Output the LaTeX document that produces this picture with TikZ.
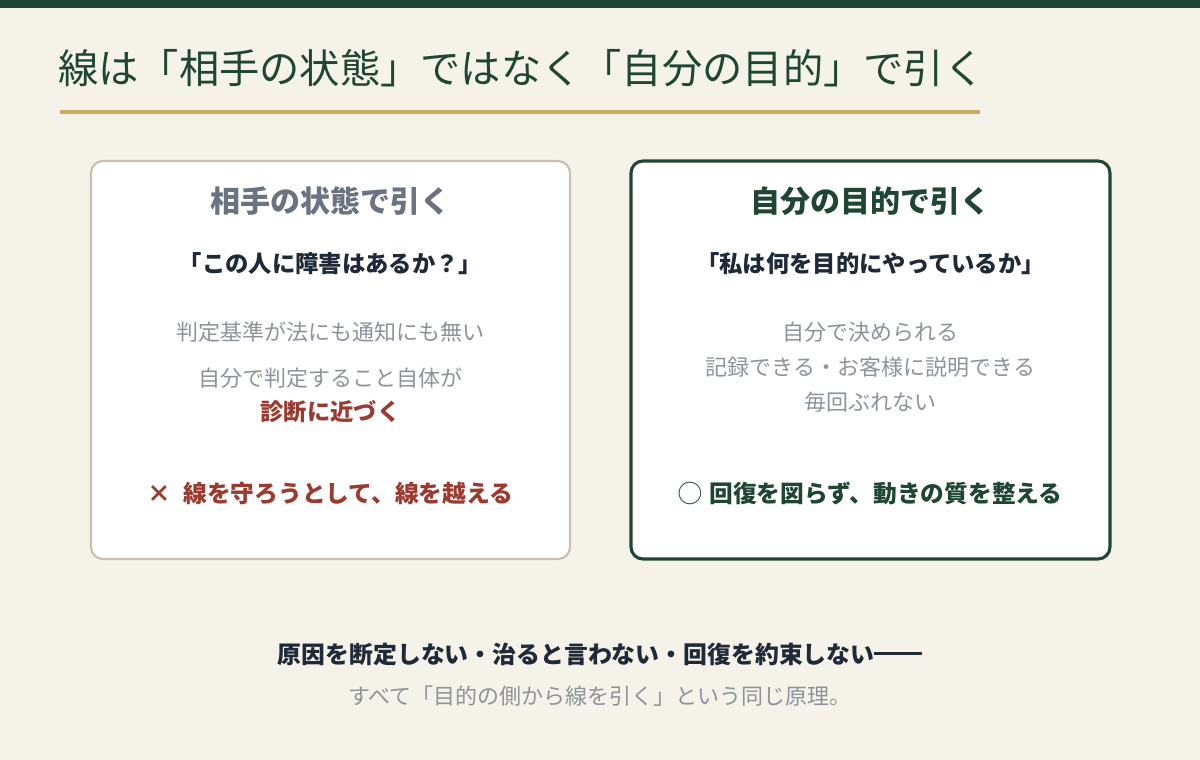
\documentclass[tikz,border=0pt]{standalone}
\usepackage{fontspec}
\setmainfont{Noto Sans CJK JP}
\newfontfamily\jp{Noto Sans CJK JP}
\definecolor{bg}{HTML}{F5F2EA}
\definecolor{dgreen}{HTML}{1E4632}
\definecolor{gold}{HTML}{CDA861}
\definecolor{beige}{HTML}{C9C0B3}
\definecolor{slate}{HTML}{6B7280}
\definecolor{ink}{HTML}{1F2937}
\definecolor{lgray}{HTML}{8E939B}
\definecolor{rust}{HTML}{9B3A2E}
\tikzset{
  card/.style={rounded corners=12*0.75pt, fill=white},
  cardtitle/.style={font=\jp\bfseries\fontsize{22.5}{27}\selectfont, anchor=center, inner sep=0pt},
  quote/.style={font=\jp\bfseries\fontsize{17.5}{21}\selectfont, text=ink, anchor=center, inner sep=0pt},
  note/.style={font=\jp\fontsize{16.5}{20}\selectfont, text=lgray, anchor=center, inner sep=0pt},
  verdict/.style={font=\jp\bfseries\fontsize{17.8}{21}\selectfont, anchor=center, inner sep=0pt},
}
\begin{document}
\begin{tikzpicture}[x=0.75pt,y=-0.75pt]
\fill[bg] (0,0) rectangle (1200,760);
\useasboundingbox (0,0) rectangle (1200,760);
\fill[dgreen] (0,0) rectangle (1200,8);
\node[anchor=west, inner sep=0pt, text=dgreen, font=\jp\fontsize{30.2}{34}\selectfont] (title) at (58,68) {線は「相手の状態」ではなく「自分の目的」で引く};
\draw[gold, line width=2.4pt] (60,112) coordinate (g1) -- (980,112) coordinate (g2);
% left card
\draw[card, draw=beige, line width=1.6pt] (91,161) rectangle (570,559);
\node[cardtitle, text=slate] (lt) at (330.5,201) {相手の状態で引く};
\node[quote] (lq) at (330.5,264) {「この人に障害はあるか？」};
\node[note] (l1) at (330.5,332) {判定基準が法にも通知にも無い};
\node[note] (l2) at (330.5,378) {自分で判定すること自体が};
\node[quote, text=rust] (l3) at (330.5,412) {診断に近づく};
\node[verdict, text=rust] (lv) at (330.5,493) {×\hspace{0.5em}線を守ろうとして、線を越える};
% right card
\draw[card, draw=dgreen, line width=2.3pt] (631,161) rectangle (1110,559);
\node[cardtitle, text=dgreen] (rt) at (870.5,201) {自分の目的で引く};
\node[quote] (rq) at (870.5,264) {「私は何を目的にやっているか」};
\node[note] (r1) at (870.5,332) {自分で決められる};
\node[note] (r2) at (870.5,367) {記録できる・お客様に説明できる};
\node[note] (r3) at (870.5,402) {毎回ぶれない};
\node[verdict, text=dgreen] (rv) at (870.5,493) {◯\hspace{0.3em}回復を図らず、動きの質を整える};
% bottom
\node[quote, font=\jp\bfseries\fontsize{17.9}{21}\selectfont] (b1) at (600,654) {原因を断定しない・治ると言わない・回復を約束しない\rule[0.35em]{2em}{0.1em}};
\node[note] (b2) at (600,696) {すべて「目的の側から線を引く」という同じ原理。};
\end{tikzpicture}
\end{document}
